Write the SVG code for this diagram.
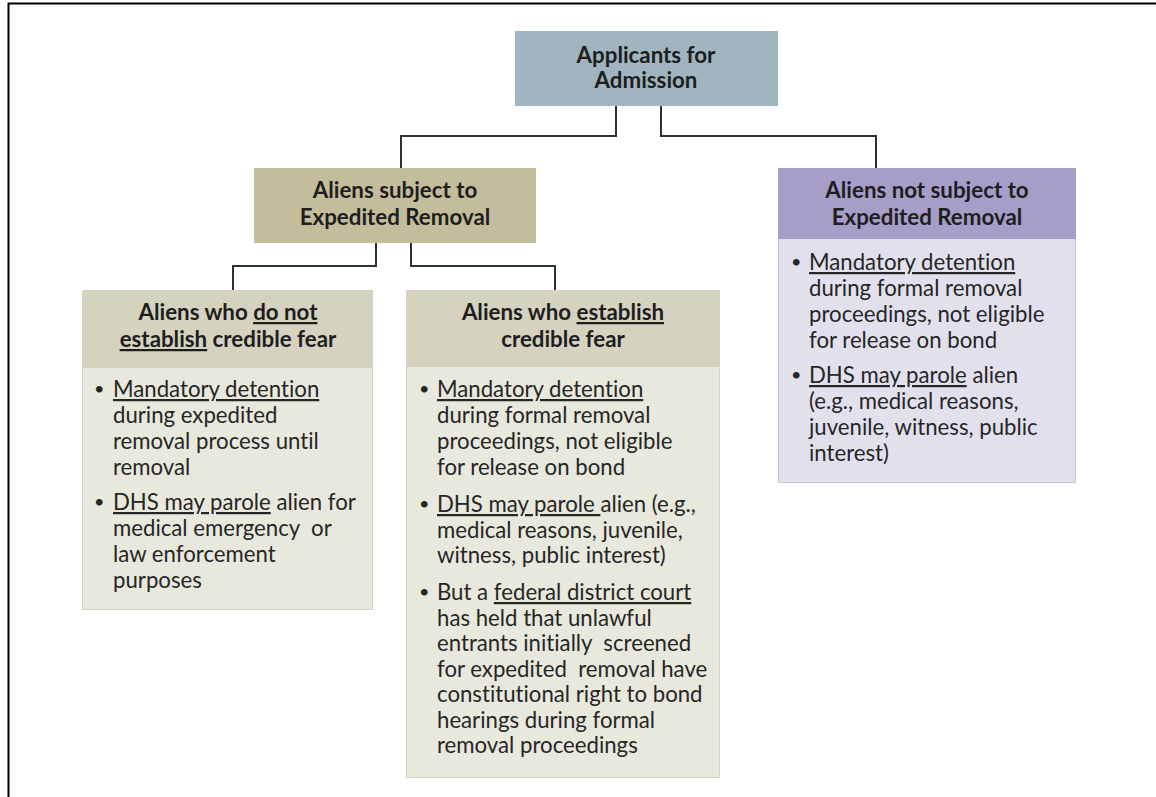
<svg xmlns="http://www.w3.org/2000/svg" width="1156" height="797" viewBox="0 0 1156 797">
<style>
text{font-variant-ligatures:none;white-space:pre}
.h{font-family:Lato,"Liberation Sans",sans-serif;font-weight:bold;font-size:22.3px;fill:#1e1e1e;text-anchor:middle}
.b{font-family:Lato,"Liberation Sans",sans-serif;font-size:22.2px;fill:#262626}
.d{font-family:Lato,"Liberation Sans",sans-serif;font-size:18px;fill:#262626}
.u{text-decoration:underline}
.c{fill:none;stroke:#2a3438;stroke-width:2}
</style>
<rect width="1156" height="797" fill="#fff"/>
<path d="M8.5 797V3.5H1156" fill="none" stroke="#000" stroke-width="2"/>
<g id="connectors">
<path class="c" d="M616 106V136H401V168"/>
<path class="c" d="M661 106V136H876V168"/>
<path class="c" d="M376 243V266H233V290"/>
<path class="c" d="M411 243V266H555V290"/>
</g>
<g id="applicants">
<rect x="515" y="31" width="263" height="75" fill="#a0b5bf"/>
<text class="h" x="646" y="63">Applicants for</text>
<text class="h" x="646" y="88">Admission</text>
</g>
<g id="subject">
<rect x="254" y="168" width="282" height="75" fill="#c3bd9c"/>
<text class="h" x="395" y="198">Aliens subject to</text>
<text class="h" x="395" y="225">Expedited Removal</text>
</g>
<g id="notsubject">
<rect x="778.5" y="168.5" width="297" height="314" fill="#e3e0ee" stroke="#cbc6de"/>
<rect x="778" y="168" width="298" height="71" fill="#a69dc9"/>
<text class="h" x="927" y="198">Aliens not subject to</text>
<text class="h" x="927" y="225">Expedited Removal</text>
<text class="d" x="791" y="268">•</text>
<text class="b"><tspan x="809" y="270" class="u">Mandatory detention</tspan><tspan x="809" y="296">during formal removal</tspan><tspan x="809" y="322">proceedings, not eligible</tspan><tspan x="809" y="348">for release on bond</tspan></text>
<text class="d" x="791" y="381">•</text>
<text class="b"><tspan x="809" y="383"><tspan class="u">DHS may parole</tspan> alien</tspan><tspan x="809" y="409">(e.g., medical reasons,</tspan><tspan x="809" y="435">juvenile, witness, public</tspan><tspan x="809" y="461">interest)</tspan></text>
</g>
<g id="nofear">
<rect x="82.5" y="290.5" width="290" height="319" fill="#e9e8dd" stroke="#d3d1c2"/>
<rect x="82" y="290" width="291" height="78" fill="#d5d2bf"/>
<text class="h" x="228" y="320">Aliens who <tspan class="u">do not</tspan></text>
<text class="h" x="228" y="347"><tspan class="u">establish</tspan> credible fear</text>
<text class="d" x="94" y="395">•</text>
<text class="b"><tspan x="113" y="397" class="u">Mandatory detention</tspan><tspan x="113" y="423">during expedited</tspan><tspan x="113" y="449">removal process until</tspan><tspan x="113" y="475">removal</tspan></text>
<text class="d" x="94" y="508">•</text>
<text class="b"><tspan x="113" y="510"><tspan class="u">DHS may parole</tspan> alien for</tspan><tspan x="113" y="536">medical emergency  or</tspan><tspan x="113" y="562">law enforcement</tspan><tspan x="113" y="588">purposes</tspan></text>
</g>
<g id="fear">
<rect x="406.5" y="290.5" width="313" height="487" fill="#e9e8dd" stroke="#d3d1c2"/>
<rect x="406" y="290" width="314" height="77" fill="#d5d2bf"/>
<text class="h" x="563" y="320">Aliens who <tspan class="u">establish</tspan></text>
<text class="h" x="563" y="347">credible fear</text>
<text class="d" x="419" y="395">•</text>
<text class="b"><tspan x="437" y="397" class="u">Mandatory detention</tspan><tspan x="437" y="423">during formal removal</tspan><tspan x="437" y="449">proceedings, not eligible</tspan><tspan x="437" y="475">for release on bond</tspan></text>
<text class="d" x="419" y="510">•</text>
<text class="b"><tspan x="437" y="512"><tspan class="u">DHS may parole </tspan>alien (e.g.,</tspan><tspan x="437" y="538">medical reasons, juvenile,</tspan><tspan x="437" y="563">witness, public interest)</tspan></text>
<text class="d" x="419" y="598">•</text>
<text class="b"><tspan x="437" y="600">But a <tspan class="u">federal district court</tspan></tspan><tspan x="437" y="625.5">has held that unlawful</tspan><tspan x="437" y="651">entrants initially  screened</tspan><tspan x="437" y="676.5">for expedited  removal have</tspan><tspan x="437" y="702">constitutional right to bond</tspan><tspan x="437" y="727.5">hearings during formal</tspan><tspan x="437" y="753">removal proceedings</tspan></text>
</g>
</svg>
